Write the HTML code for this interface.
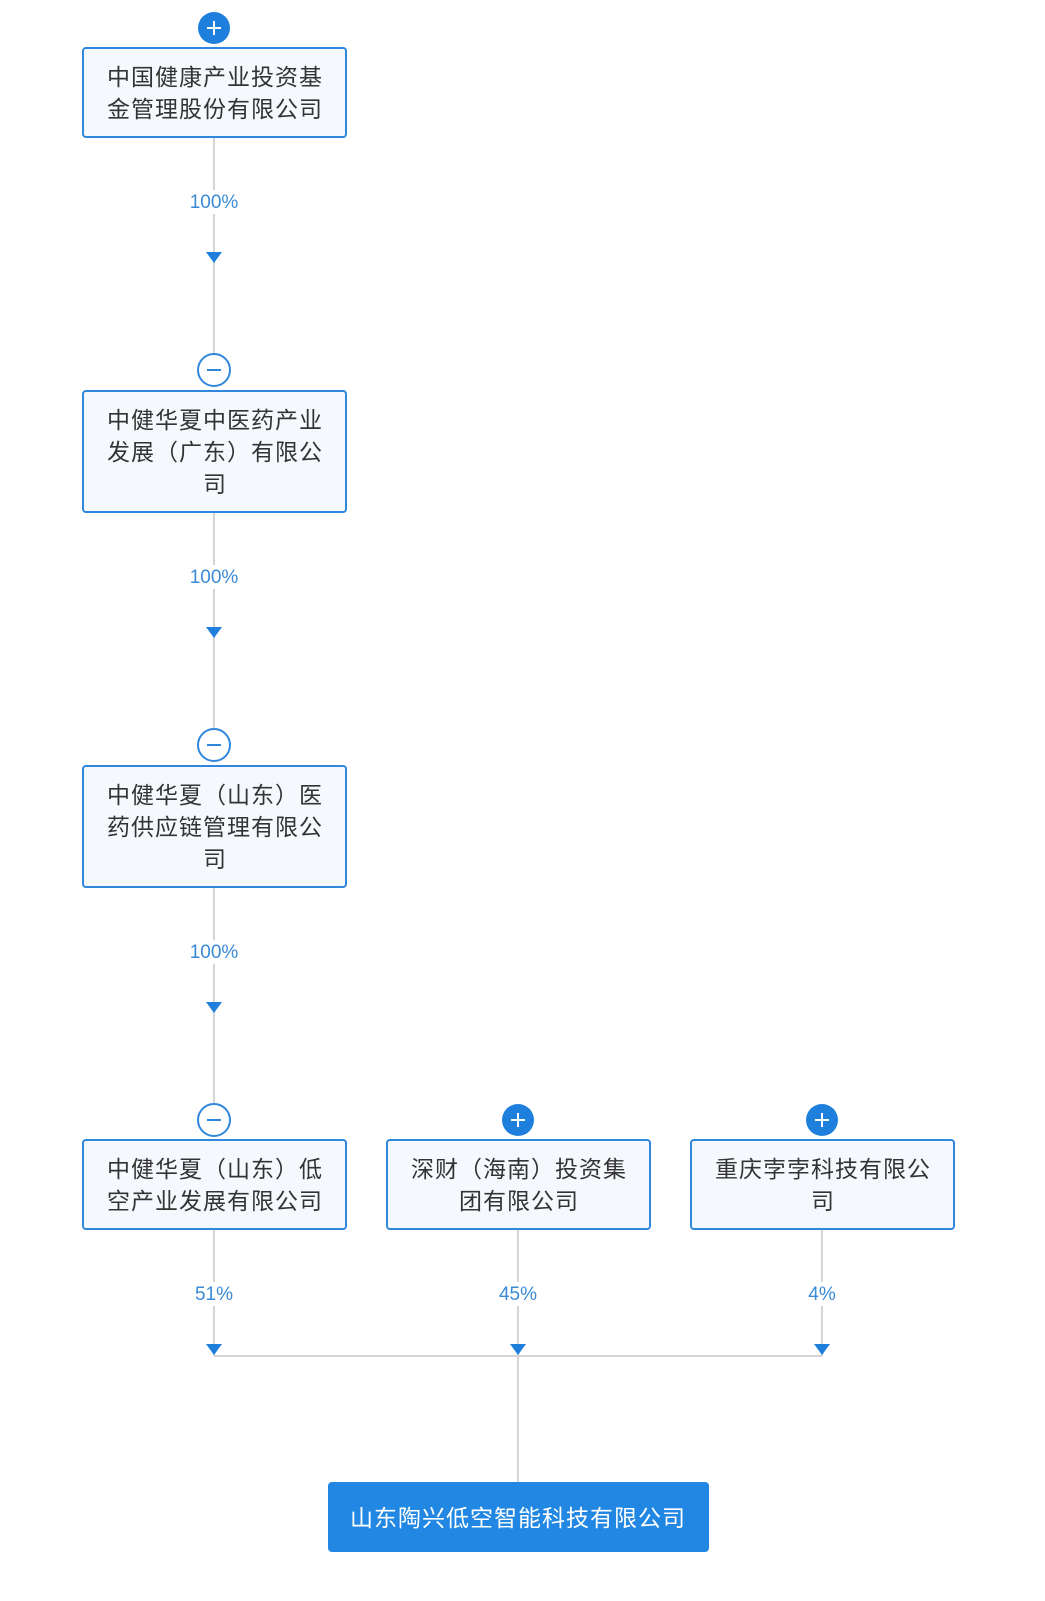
<!DOCTYPE html>
<html><head><meta charset="utf-8"><style>
html,body{margin:0;padding:0;background:#fff;}
svg{display:block;}
text{font-family:"Liberation Sans","Noto Sans CJK SC",sans-serif;}
.t{font-size:23px;fill:#333;text-anchor:middle;letter-spacing:1px;}
.p{font-size:19px;fill:#3a8ad6;text-anchor:middle;}
.b{fill:#f5f9fd;stroke:#3088dc;stroke-width:2;}
.l{stroke:#d4d4d4;stroke-width:2;fill:none;}
.a{fill:#1e7fdc;}
</style></head><body>
<svg width="1045" height="1601" xmlns="http://www.w3.org/2000/svg">
<!-- lines -->
<line class="l" x1="214" y1="137" x2="214" y2="354"/>
<line class="l" x1="214" y1="512" x2="214" y2="729"/>
<line class="l" x1="214" y1="887" x2="214" y2="1104"/>
<line class="l" x1="214" y1="1229" x2="214" y2="1356"/>
<line class="l" x1="518" y1="1229" x2="518" y2="1482"/>
<line class="l" x1="822" y1="1229" x2="822" y2="1356"/>
<line class="l" x1="214" y1="1356" x2="822" y2="1356"/>
<!-- percent labels with white bg -->
<rect x="186" y="190" width="56" height="24" fill="#fff"/>
<text class="p" x="214" y="208">100%</text>
<rect x="186" y="565" width="56" height="24" fill="#fff"/>
<text class="p" x="214" y="583">100%</text>
<rect x="186" y="940" width="56" height="24" fill="#fff"/>
<text class="p" x="214" y="958">100%</text>
<rect x="192" y="1282" width="44" height="24" fill="#fff"/>
<text class="p" x="214" y="1300">51%</text>
<rect x="496" y="1282" width="44" height="24" fill="#fff"/>
<text class="p" x="518" y="1300">45%</text>
<rect x="805" y="1282" width="34" height="24" fill="#fff"/>
<text class="p" x="822" y="1300">4%</text>
<!-- arrows -->
<polygon class="a" points="206,252 222,252 214,263"/>
<polygon class="a" points="206,627 222,627 214,638"/>
<polygon class="a" points="206,1002 222,1002 214,1013"/>
<polygon class="a" points="206,1344 222,1344 214,1355"/>
<polygon class="a" points="510,1344 526,1344 518,1355"/>
<polygon class="a" points="814,1344 830,1344 822,1355"/>
<!-- boxes -->
<rect class="b" x="83" y="48" width="263" height="89" rx="3"/>
<text class="t" x="215" y="85">中国健康产业投资基</text>
<text class="t" x="215" y="117">金管理股份有限公司</text>
<rect class="b" x="83" y="391" width="263" height="121" rx="3"/>
<text class="t" x="215" y="428">中健华夏中医药产业</text>
<text class="t" x="215" y="460">发展（广东）有限公</text>
<text class="t" x="215" y="492">司</text>
<rect class="b" x="83" y="766" width="263" height="121" rx="3"/>
<text class="t" x="215" y="803">中健华夏（山东）医</text>
<text class="t" x="215" y="835">药供应链管理有限公</text>
<text class="t" x="215" y="867">司</text>
<rect class="b" x="83" y="1140" width="263" height="89" rx="3"/>
<text class="t" x="215" y="1177">中健华夏（山东）低</text>
<text class="t" x="215" y="1209">空产业发展有限公司</text>
<rect class="b" x="387" y="1140" width="263" height="89" rx="3"/>
<text class="t" x="519" y="1177">深财（海南）投资集</text>
<text class="t" x="519" y="1209">团有限公司</text>
<rect class="b" x="691" y="1140" width="263" height="89" rx="3"/>
<text class="t" x="823" y="1177">重庆孛孛科技有限公</text>
<text class="t" x="823" y="1209">司</text>
<rect x="328" y="1482" width="381" height="70" rx="4" fill="#2187e2"/>
<text x="518" y="1526" style="font-size:23px;fill:#fff;text-anchor:middle;letter-spacing:1px;">山东陶兴低空智能科技有限公司</text>
<!-- plus/minus circles -->
<g>
<circle cx="214" cy="28" r="16" fill="#1e7fdc"/>
<line x1="207" y1="28" x2="221" y2="28" stroke="#fff" stroke-width="2"/>
<line x1="214" y1="21" x2="214" y2="35" stroke="#fff" stroke-width="2"/>
</g>
<g fill="#fff" stroke="#3088dc" stroke-width="2">
<circle cx="214" cy="370" r="16"/>
<circle cx="214" cy="745" r="16"/>
<circle cx="214" cy="1120" r="16"/>
</g>
<g stroke="#3088dc" stroke-width="2">
<line x1="207" y1="370" x2="221" y2="370"/>
<line x1="207" y1="745" x2="221" y2="745"/>
<line x1="207" y1="1120" x2="221" y2="1120"/>
</g>
<g>
<circle cx="518" cy="1120" r="16" fill="#1e7fdc"/>
<line x1="511" y1="1120" x2="525" y2="1120" stroke="#fff" stroke-width="2"/>
<line x1="518" y1="1113" x2="518" y2="1127" stroke="#fff" stroke-width="2"/>
<circle cx="822" cy="1120" r="16" fill="#1e7fdc"/>
<line x1="815" y1="1120" x2="829" y2="1120" stroke="#fff" stroke-width="2"/>
<line x1="822" y1="1113" x2="822" y2="1127" stroke="#fff" stroke-width="2"/>
</g>
</svg>
</body></html>
